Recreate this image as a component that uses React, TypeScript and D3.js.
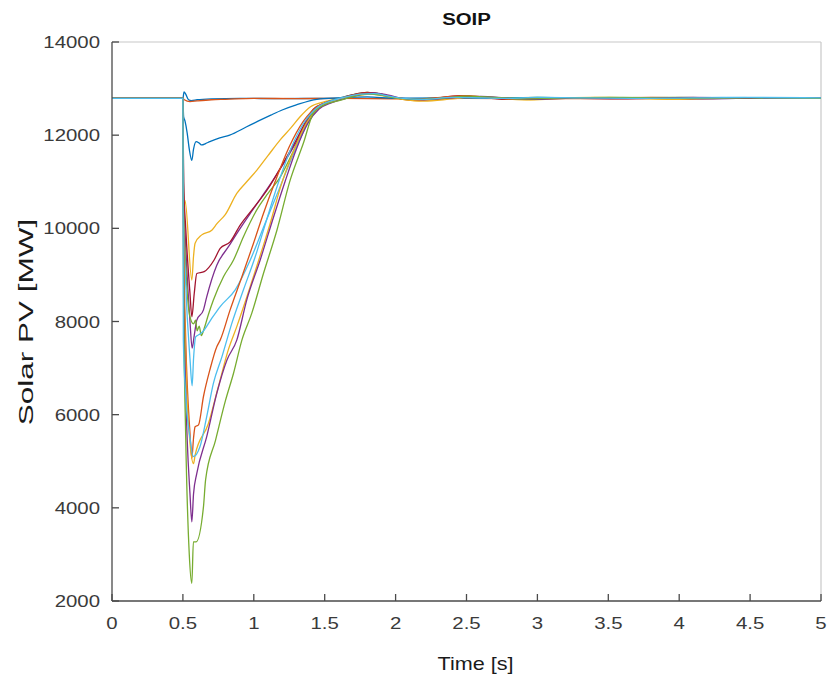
import React from "react";
import * as d3 from "d3";

type Pt = [number, number];

const TITLE = "SOIP";
const X_LABEL = "Time [s]";
const Y_LABEL = "Solar PV [MW]";
const X_TICKS = [0, 0.5, 1, 1.5, 2, 2.5, 3, 3.5, 4, 4.5, 5];
const Y_TICKS = [2000, 4000, 6000, 8000, 10000, 12000, 14000];
const COLORS = ["#0072BD", "#D95319", "#EDB120", "#7E2F8E", "#77AC30", "#4DBEEE", "#A2142F"];

const s01: Pt[] = [[0,12790],[0.5,12790],[0.508,12930],[0.52,12880],[0.54,12760],[0.56,12740],[0.6,12760],[0.7,12780],[0.9,12790],[1.2,12785],[1.5,12790],[2,12790],[3,12790],[4,12790],[5,12790]];
const s02: Pt[] = [[0,12790],[0.5,12790],[0.51,12760],[0.55,12720],[0.6,12735],[0.7,12760],[0.8,12770],[1.0,12790],[1.3,12785],[1.6,12790],[2,12780],[2.5,12790],[3,12785],[4,12790],[5,12790]];
const s03: Pt[] = [[0,12790],[0.5,12790],[0.505,10250],[0.515,10600],[0.563,8890],[0.575,9400],[0.586,9680],[0.633,9860],[0.704,9960],[0.74,10100],[0.8,10300],[0.88,10750],[0.95,11000],[1.022,11250],[1.1,11560],[1.186,11900],[1.26,12150],[1.328,12400],[1.4,12610],[1.5,12720],[1.6,12790],[1.7,12850],[1.8,12880],[1.9,12850],[2.0,12790],[2.15,12740],[2.3,12770],[2.5,12810],[2.7,12790],[2.9,12760],[3.1,12790],[3.4,12810],[3.7,12790],[4.0,12770],[4.3,12790],[4.7,12800],[5,12790]];
const s04: Pt[] = [[0,12790],[0.5,12790],[0.505,10800],[0.52,9600],[0.55,8000],[0.565,7430],[0.58,7700],[0.598,8030],[0.645,8250],[0.668,8530],[0.739,9210],[0.82,9600],[0.904,10000],[0.975,10320],[1.05,10650],[1.15,11100],[1.3,11850],[1.42,12520],[1.5,12680],[1.6,12770],[1.7,12860],[1.8,12910],[1.9,12870],[2.0,12800],[2.1,12770],[2.3,12790],[2.5,12830],[2.7,12790],[2.9,12780],[3.2,12800],[3.5,12790],[3.8,12800],[4.2,12780],[4.6,12800],[5,12790]];
const s05: Pt[] = [[0,12790],[0.5,12790],[0.505,10500],[0.52,9200],[0.55,8100],[0.575,7950],[0.59,8030],[0.6,7800],[0.615,7900],[0.63,7700],[0.65,7850],[0.68,8150],[0.715,8460],[0.786,8960],[0.857,9320],[0.927,9820],[1.02,10390],[1.1,10750],[1.186,11100],[1.27,11600],[1.35,12110],[1.42,12500],[1.5,12690],[1.6,12790],[1.7,12870],[1.8,12920],[1.9,12880],[2.0,12810],[2.1,12770],[2.3,12800],[2.5,12830],[2.7,12800],[3.0,12810],[3.3,12790],[3.6,12800],[4.0,12810],[4.4,12790],[5,12800]];
const s06: Pt[] = [[0,12790],[0.5,12790],[0.505,10300],[0.52,8800],[0.55,7200],[0.565,6620],[0.575,7200],[0.59,7670],[0.615,7720],[0.64,7780],[0.7,8050],[0.763,8320],[0.869,8680],[0.975,9320],[1.08,10110],[1.18,10850],[1.28,11600],[1.38,12250],[1.46,12600],[1.55,12740],[1.65,12830],[1.8,12900],[1.9,12860],[2.0,12800],[2.2,12780],[2.4,12820],[2.6,12800],[2.8,12790],[3.0,12810],[3.4,12800],[3.8,12790],[4.3,12810],[4.7,12800],[5,12800]];
const s07: Pt[] = [[0,12790],[0.5,12790],[0.505,11000],[0.52,10000],[0.55,8600],[0.563,8100],[0.58,8600],[0.598,9030],[0.65,9070],[0.72,9320],[0.763,9570],[0.833,9710],[0.904,10070],[0.986,10390],[1.1,10850],[1.2,11360],[1.3,11900],[1.42,12560],[1.5,12690],[1.6,12780],[1.7,12870],[1.8,12920],[1.9,12880],[2.0,12800],[2.1,12760],[2.25,12780],[2.45,12850],[2.6,12810],[2.8,12770],[3.0,12800],[3.3,12790],[3.6,12780],[4.0,12800],[4.5,12790],[5,12790]];
const s08: Pt[] = [[0,12790],[0.5,12790],[0.505,12400],[0.515,12300],[0.53,12050],[0.545,11700],[0.563,11460],[0.575,11700],[0.593,11860],[0.615,11830],[0.633,11790],[0.66,11820],[0.69,11860],[0.76,11940],[0.83,12000],[0.95,12180],[1.03,12300],[1.12,12430],[1.2,12540],[1.3,12650],[1.445,12770],[1.6,12800],[1.8,12820],[2,12790],[2.5,12800],[3,12790],[4,12790],[5,12790]];
const s09: Pt[] = [[0,12790],[0.5,12790],[0.505,9800],[0.52,7600],[0.55,5600],[0.563,5060],[0.575,5500],[0.586,5740],[0.61,5780],[0.645,6390],[0.69,6960],[0.739,7460],[0.763,7600],[0.833,8250],[0.916,8960],[0.998,9680],[1.068,10320],[1.15,11000],[1.25,11750],[1.35,12300],[1.45,12620],[1.55,12730],[1.65,12820],[1.8,12900],[1.9,12870],[2.0,12800],[2.15,12770],[2.35,12820],[2.5,12850],[2.65,12810],[2.85,12780],[3.1,12800],[3.4,12790],[3.8,12810],[4.2,12790],[4.6,12800],[5,12790]];
const s10: Pt[] = [[0,12790],[0.5,12790],[0.505,9500],[0.52,7200],[0.55,5400],[0.575,4950],[0.586,5130],[0.68,5810],[0.75,6600],[0.82,7390],[0.88,7890],[0.975,8750],[1.057,9530],[1.116,10110],[1.19,10900],[1.28,11650],[1.37,12250],[1.46,12580],[1.55,12720],[1.65,12800],[1.75,12860],[1.85,12880],[1.95,12830],[2.05,12770],[2.2,12730],[2.4,12780],[2.55,12820],[2.75,12790],[2.95,12760],[3.2,12790],[3.5,12810],[3.9,12780],[4.3,12800],[4.7,12790],[5,12790]];
const s11: Pt[] = [[0,12790],[0.5,12790],[0.505,9000],[0.52,6500],[0.55,4300],[0.563,3700],[0.575,4300],[0.598,4740],[0.668,5530],[0.739,6460],[0.81,7170],[0.88,7600],[0.95,8460],[1.045,9320],[1.14,10250],[1.22,11000],[1.3,11700],[1.38,12250],[1.46,12560],[1.55,12700],[1.65,12790],[1.75,12870],[1.85,12910],[1.95,12860],[2.05,12790],[2.2,12760],[2.4,12800],[2.6,12830],[2.8,12790],[3.0,12770],[3.3,12800],[3.7,12790],[4.1,12810],[4.5,12790],[5,12800]];
const s12: Pt[] = [[0,12790],[0.5,12790],[0.505,8500],[0.52,5500],[0.545,3000],[0.563,2380],[0.574,3270],[0.593,3270],[0.645,4020],[0.66,4600],[0.73,5450],[0.8,6300],[0.857,6890],[0.916,7600],[0.986,8180],[1.068,9030],[1.163,9960],[1.257,11040],[1.35,11830],[1.42,12470],[1.49,12640],[1.6,12740],[1.7,12830],[1.8,12880],[1.9,12860],[2.0,12800],[2.15,12770],[2.35,12800],[2.5,12840],[2.7,12810],[2.9,12780],[3.2,12800],[3.6,12810],[4.0,12790],[4.5,12800],[5,12790]];
const s13: Pt[] = [[0,12790],[0.5,12790],[0.503,7600],[0.52,6400],[0.55,5500],[0.574,5100],[0.62,5310],[0.668,5960],[0.715,6670],[0.775,7240],[0.845,7960],[0.927,8680],[1.01,9390],[1.09,10180],[1.17,10950],[1.26,11700],[1.35,12250],[1.45,12600],[1.55,12740],[1.65,12820],[1.75,12880],[1.85,12890],[1.95,12840],[2.05,12790],[2.2,12770],[2.4,12810],[2.6,12800],[2.8,12790],[3.0,12810],[3.3,12800],[3.7,12790],[4.1,12800],[4.5,12810],[5,12800]];

const SERIES: Pt[][] = [s01, s02, s03, s04, s05, s06, s07, s08, s09, s10, s11, s12, s13];

const W = 827;
const H = 680;
const L = 112;
const R = 821;
const T = 42;
const B = 601;
const FONT = "'Liberation Sans', Arial, Helvetica, sans-serif";
const TXT = "#3a3a3a";

export default function App() {
  const x = d3.scaleLinear().domain([0, 5]).range([L, R]);
  const y = d3.scaleLinear().domain([2000, 14000]).range([B, T]);
  const line = d3
    .line<Pt>()
    .x((d) => x(d[0]))
    .y((d) => y(d[1]))
    .curve(d3.curveMonotoneX);

  return (
    <svg
      width={W}
      height={H}
      style={{ position: "absolute", left: 0, top: 0, background: "#fff" }}
      fontFamily={FONT}
    >
      <rect x={0} y={0} width={W} height={H} fill="#fff" />
      <defs>
        <clipPath id="plotclip">
          <rect x={L} y={T} width={R - L} height={B - T} />
        </clipPath>
      </defs>
      <line x1={L} y1={T} x2={R} y2={T} stroke="#c8c8c8" strokeWidth={1.2} />
      <line x1={R} y1={T} x2={R} y2={B} stroke="#c8c8c8" strokeWidth={1.2} />
      <g clipPath="url(#plotclip)">
        {SERIES.map((s, i) => (
          <path
            key={i}
            d={line(s) || ""}
            fill="none"
            stroke={COLORS[i % COLORS.length]}
            strokeWidth={1.3}
            strokeLinejoin="round"
          />
        ))}
      </g>
      <line x1={L} y1={T} x2={L} y2={B} stroke="#4a4a4a" strokeWidth={1.3} />
      <line x1={L} y1={B} x2={R} y2={B} stroke="#4a4a4a" strokeWidth={1.3} />
      {X_TICKS.map((t) => (
        <g key={"xt" + t}>
          <line x1={x(t)} y1={B} x2={x(t)} y2={B - 7} stroke="#4a4a4a" strokeWidth={1.3} />
          <text
            transform={`translate(${x(t)},${B + 28}) scale(1.2,1)`}
            textAnchor="middle"
            fontSize={17}
            fill={TXT}
          >
            {String(t)}
          </text>
        </g>
      ))}
      {Y_TICKS.map((v) => (
        <g key={"yt" + v}>
          <line x1={L} y1={y(v)} x2={L + 7} y2={y(v)} stroke="#4a4a4a" strokeWidth={1.3} />
          <text
            transform={`translate(${L - 12},${y(v) + 6}) scale(1.2,1)`}
            textAnchor="end"
            fontSize={17}
            fill={TXT}
          >
            {String(v)}
          </text>
        </g>
      ))}
      <text
        transform={`translate(${(L + R) / 2},${25}) scale(1.2,1)`}
        textAnchor="middle"
        fontSize={17}
        fontWeight="bold"
        fill="#111"
      >
        {TITLE}
      </text>
      <text
        transform={`translate(${(L + R) / 2 + 9},${670}) scale(1.2,1)`}
        textAnchor="middle"
        fontSize={18}
        fill="#1a1a1a"
      >
        {X_LABEL}
      </text>
      <text
        transform={`translate(${33},${322}) rotate(-90) scale(1.5,1)`}
        textAnchor="middle"
        fontSize={21}
        fill="#1a1a1a"
      >
        {Y_LABEL}
      </text>
    </svg>
  );
}
